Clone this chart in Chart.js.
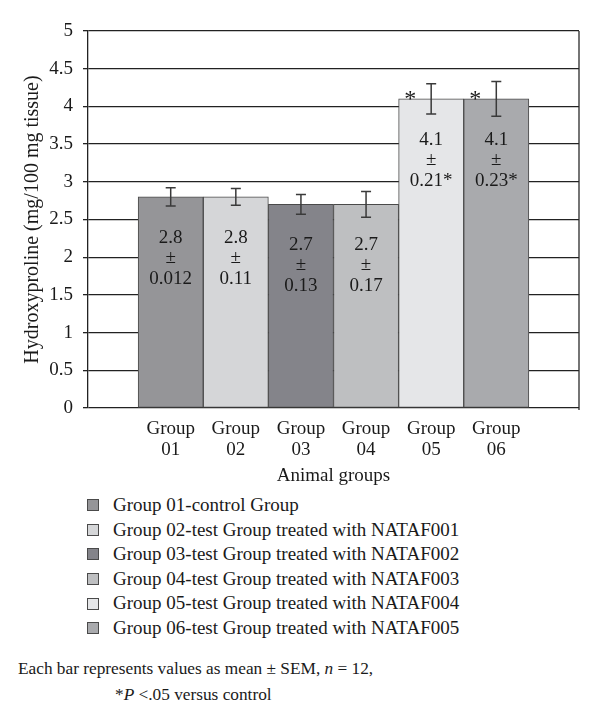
<!DOCTYPE html>
<html>
<head>
<meta charset="utf-8">
<script src="https://cdn.jsdelivr.net/npm/chart.js@4.4.1/dist/chart.umd.min.js"></script>
<style>
    body { margin: 0; background: #fff; }
    #wrap { position: relative; width: 600px; height: 728px; font-family: 'Liberation Serif', serif; color: #1a1a1a; }
    #chart { position: absolute; left: 0; top: 0; }
    #legend { position: absolute; left: 87px; top: 493px; font-size: 19px; line-height: 24.6px; }
    #legend .item { display: flex; align-items: center; white-space: nowrap; }
    #legend .box { width: 10px; height: 10px; border: 1px solid #4a4a4a; margin-right: 14px; }
    #note { position: absolute; left: 18px; top: 656px; font-size: 17.3px; line-height: 26px; }
    #note .l2 { padding-left: 97px; }
</style>
</head>
<body>
<div id="wrap">
    <canvas id="chart" width="600" height="490"></canvas>
    <div id="legend"></div>
    <div id="note">
        <div>Each bar represents values as mean ± SEM, <i>n</i> = 12,</div>
        <div class="l2">*<i>P</i> &lt;.05 versus control</div>
    </div>
</div>
<script>
// Hydroxyproline content per animal group
const groups      = ['Group 01', 'Group 02', 'Group 03', 'Group 04', 'Group 05', 'Group 06'];
const means       = [2.8, 2.8, 2.7, 2.7, 4.1, 4.1];
const errors      = [0.12, 0.11, 0.13, 0.17, 0.2, 0.23];   // error bars as drawn
const semLabels   = ['0.012', '0.11', '0.13', '0.17', '0.21*', '0.23*'];
const significant = [false, false, false, false, true, true];
const legendNames = [
    'Group 01-control Group',
    'Group 02-test Group treated with NATAF001',
    'Group 03-test Group treated with NATAF002',
    'Group 04-test Group treated with NATAF003',
    'Group 05-test Group treated with NATAF004',
    'Group 06-test Group treated with NATAF005'
];
const barColors = ['#959598', '#d5d6d8', '#84848a', '#bebfc1', '#e5e6e8', '#a9aaad'];

const FONT = "'Liberation Serif', serif";

// error bars, values inside bars, asterisks and right frame
const annotate = {
    id: 'annotate',
    afterDatasetsDraw(chart) {
        const { ctx, chartArea: a } = chart;
        const y = chart.scales.y;
        const meta = chart.getDatasetMeta(0);
        ctx.save();
        ctx.strokeStyle = '#2a2a2a';
        ctx.lineWidth = 1.3;
        ctx.beginPath();
        ctx.moveTo(a.right, a.top);
        ctx.lineTo(a.right, a.bottom + 2);
        ctx.stroke();

        meta.data.forEach((bar, i) => {
            const x = bar.x;
            const hi = y.getPixelForValue(means[i] + errors[i]);
            const lo = y.getPixelForValue(means[i] - errors[i]);
            ctx.strokeStyle = '#3a3a3a';
            ctx.lineWidth = 1.5;
            ctx.beginPath();
            ctx.moveTo(x, hi); ctx.lineTo(x, lo);
            ctx.moveTo(x - 5, hi); ctx.lineTo(x + 5, hi);
            ctx.moveTo(x - 5, lo); ctx.lineTo(x + 5, lo);
            ctx.stroke();

            ctx.fillStyle = '#1a1a1a';
            ctx.textAlign = 'center';
            ctx.textBaseline = 'middle';
            ctx.font = '19px ' + FONT;
            const t = bar.y + 41;
            ctx.fillText(String(means[i]), x, t);
            ctx.fillText('±', x, t + 20);
            ctx.fillText(semLabels[i], x, t + 41);
            if (significant[i]) {
                ctx.font = '24px ' + FONT;
                ctx.textBaseline = 'alphabetic';
                ctx.fillText('*', x - 21, bar.y + 7);
            }
        });
        ctx.restore();
    }
};

const chart = new Chart(document.getElementById('chart'), {
    type: 'bar',
    data: {
        datasets: [{
            label: 'Hydroxyproline',
            data: means.map((v, i) => ({ x: i, y: v })),
            backgroundColor: barColors,
            borderColor: '#4a4a4a',
            borderWidth: 1,
            borderSkipped: false,
            barPercentage: 1,
            categoryPercentage: 1
        }]
    },
    options: {
        responsive: false,
        animation: false,
        layout: { padding: { left: 0, right: 21, top: 31, bottom: 0 } },
        plugins: {
            legend: { display: false },
            tooltip: { enabled: false }
        },
        scales: {
            x: {
                type: 'linear',
                min: -1.27,
                max: 6.27,
                offset: false,
                afterBuildTicks: s => { s.ticks = groups.map((g, i) => ({ value: i })); },
                afterFit: s => { s.height = 82; },
                grid: { display: false, drawTicks: false },
                border: { display: false },
                ticks: {
                    autoSkip: false,
                    maxRotation: 0,
                    padding: 11,
                    color: '#1a1a1a',
                    font: { family: FONT, size: 19, lineHeight: 1.1 },
                    callback: v => groups[v] ? groups[v].split(' ') : ''
                },
                title: {
                    display: true,
                    text: 'Animal groups',
                    color: '#1a1a1a',
                    font: { family: FONT, size: 19 },
                    padding: { top: 0, bottom: 3 }
                }
            },
            y: {
                min: 0,
                max: 5,
                afterFit: s => { s.width = 88; },
                ticks: {
                    stepSize: 0.5,
                    padding: 10,
                    color: '#1a1a1a',
                    font: { family: FONT, size: 19 },
                    callback: v => String(v)
                },
                grid: { color: '#222', lineWidth: 1.3, drawTicks: true, tickLength: 5 },
                border: { color: '#222', width: 1.3 },
                title: {
                    display: true,
                    text: 'Hydroxyproline (mg/100 mg tissue)',
                    color: '#1a1a1a',
                    font: { family: FONT, size: 20 },
                    padding: { top: 21, bottom: 0 }
                }
            }
        }
    },
    plugins: [annotate]
});

// legend
const legend = document.getElementById('legend');
legendNames.forEach((name, i) => {
    const item = document.createElement('div');
    item.className = 'item';
    const box = document.createElement('span');
    box.className = 'box';
    box.style.background = barColors[i];
    item.appendChild(box);
    item.appendChild(document.createTextNode(name));
    legend.appendChild(item);
});
</script>
</body>
</html>
